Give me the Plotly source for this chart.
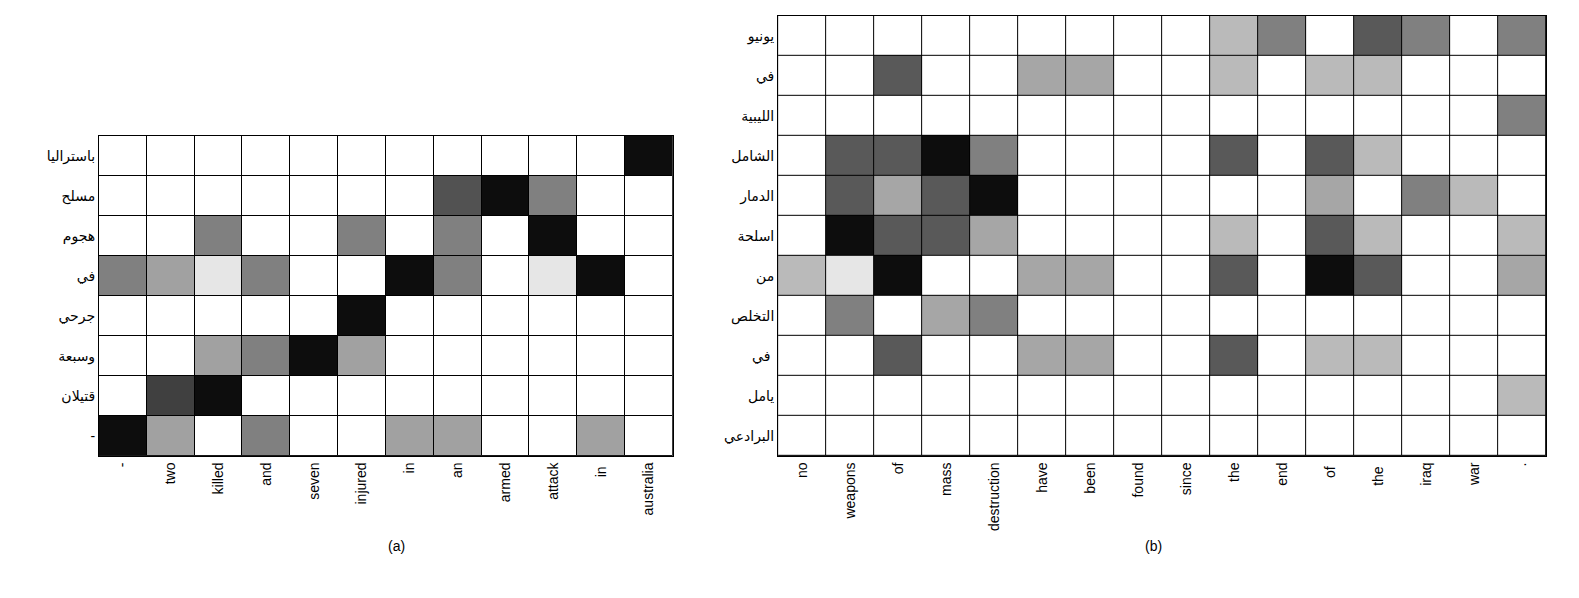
import plotly.graph_objects as go

# Panel (a)
a_x = ["-", "two", "killed", "and", "seven", "injured", "in", "an", "armed", "attack", "in ", "australia"]
a_y = ["باستراليا", "مسلح", "هجوم", "في", "جرحي", "وسبعة", "قتيلان", "-"]
a_z = [
    [0, 0, 0, 0, 0, 0, 0, 0, 0, 0, 0, 0.95],
    [0, 0, 0, 0, 0, 0, 0, 0.68, 0.95, 0.5, 0, 0],
    [0, 0, 0.5, 0, 0, 0.5, 0, 0.5, 0, 0.95, 0, 0],
    [0.5, 0.37, 0.1, 0.5, 0, 0, 0.95, 0.5, 0, 0.1, 0.95, 0],
    [0, 0, 0, 0, 0, 0.95, 0, 0, 0, 0, 0, 0],
    [0, 0, 0.37, 0.5, 0.95, 0.37, 0, 0, 0, 0, 0, 0],
    [0, 0.75, 0.95, 0, 0, 0, 0, 0, 0, 0, 0, 0],
    [0.95, 0.37, 0, 0.5, 0, 0, 0.37, 0.37, 0, 0, 0.37, 0],
]

# Panel (b)
b_x = ["no", "weapons", "of", "mass", "destruction", "have", "been", "found", "since", "the", "end", "of ", "the ", "iraq", "war", "."]
b_y = ["يونيو", "في", "الليبية", "الشامل", "الدمار", "اسلحة", "من", "التخلص", "في ", "يامل", "البرادعي"]
b_z = [
    [0, 0, 0, 0, 0, 0, 0, 0, 0, 0.27, 0.5, 0, 0.65, 0.5, 0, 0.5],
    [0, 0, 0.65, 0, 0, 0.35, 0.35, 0, 0, 0.27, 0, 0.27, 0.27, 0, 0, 0],
    [0, 0, 0, 0, 0, 0, 0, 0, 0, 0, 0, 0, 0, 0, 0, 0.5],
    [0, 0.65, 0.65, 0.95, 0.5, 0, 0, 0, 0, 0.65, 0, 0.65, 0.27, 0, 0, 0],
    [0, 0.65, 0.35, 0.65, 0.95, 0, 0, 0, 0, 0, 0, 0.35, 0, 0.5, 0.27, 0],
    [0, 0.95, 0.65, 0.65, 0.35, 0, 0, 0, 0, 0.27, 0, 0.65, 0.27, 0, 0, 0.27],
    [0.27, 0.1, 0.95, 0, 0, 0.35, 0.35, 0, 0, 0.65, 0, 0.95, 0.65, 0, 0, 0.35],
    [0, 0.5, 0, 0.35, 0.5, 0, 0, 0, 0, 0, 0, 0, 0, 0, 0, 0],
    [0, 0, 0.65, 0, 0, 0.35, 0.35, 0, 0, 0.65, 0, 0.27, 0.27, 0, 0, 0],
    [0, 0, 0, 0, 0, 0, 0, 0, 0, 0, 0, 0, 0, 0, 0, 0.27],
    [0, 0, 0, 0, 0, 0, 0, 0, 0, 0, 0, 0, 0, 0, 0, 0],
]

cs = [[0, "white"], [1, "black"]]
fig = go.Figure()
fig.add_trace(go.Heatmap(z=a_z, x=a_x, y=a_y, colorscale=cs, zmin=0, zmax=1, showscale=False,
                         xgap=1, ygap=1, xaxis="x", yaxis="y"))
fig.add_trace(go.Heatmap(z=b_z, x=b_x, y=b_y, colorscale=cs, zmin=0, zmax=1, showscale=False,
                         xgap=1, ygap=1, xaxis="x2", yaxis="y2"))

font = dict(family="Liberation Sans, DejaVu Sans, Arial", size=14, color="black")
axcommon = dict(showgrid=False, zeroline=False, showline=True, linecolor="black", mirror=True,
                ticks="", tickfont=font)
fig.update_layout(
    width=1579, height=598, margin=dict(l=0, r=0, t=0, b=0),
    paper_bgcolor="white", plot_bgcolor="black", font=font,
    xaxis=dict(domain=[0.0576, 0.421], anchor="y", tickangle=-90, type="category", **axcommon),
    yaxis=dict(domain=[0.251, 0.786], anchor="x", autorange="reversed", type="category", **axcommon),
    xaxis2=dict(domain=[0.4877, 0.974], anchor="y2", tickangle=-90, type="category", **axcommon),
    yaxis2=dict(domain=[0.251, 0.987], anchor="x2", autorange="reversed", type="category", **axcommon),
    annotations=[
        dict(text="(a)", x=378 / 1579, y=1 - 548 / 598, xref="paper", yref="paper", showarrow=False, font=font),
        dict(text="(b)", x=1156 / 1579, y=1 - 548 / 598, xref="paper", yref="paper", showarrow=False, font=font),
    ],
)
fig.write_html("out.html")
